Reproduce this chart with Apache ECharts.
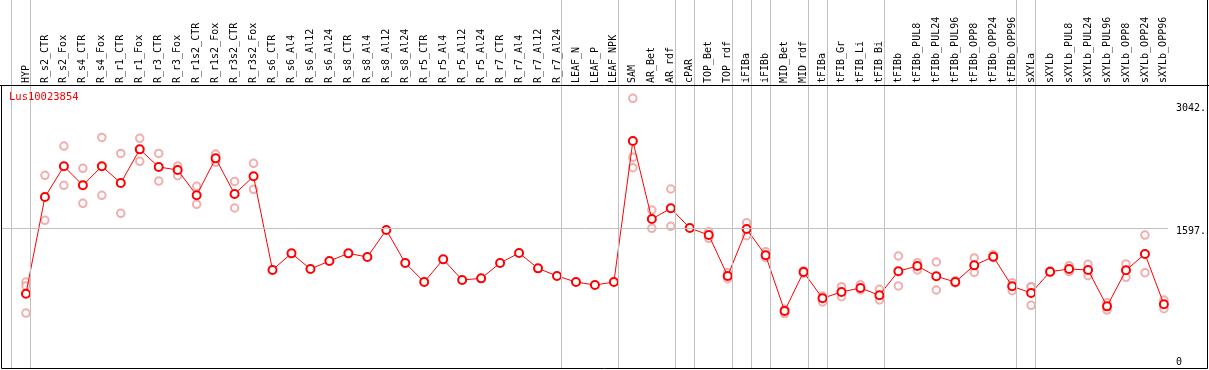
<!DOCTYPE html>
<html>
<head>
<meta charset="utf-8">
<script src="https://cdn.jsdelivr.net/npm/echarts@6/dist/echarts.min.js"></script>
<style>
html,body{margin:0;padding:0;background:#fff;}
#c{width:1209px;height:370px;}
</style>
</head>
<body>
<div id="c"></div>
<script>
const geneName = 'Lus10023854';
const categories = ['HYP','R_s2_CTR','R_s2_Fox','R_s4_CTR','R_s4_Fox','R_r1_CTR','R_r1_Fox','R_r3_CTR','R_r3_Fox','R_r1s2_CTR','R_r1s2_Fox','R_r3s2_CTR','R_r3s2_Fox','R_s6_CTR','R_s6_Al4','R_s6_Al12','R_s6_Al24','R_s8_CTR','R_s8_Al4','R_s8_Al12','R_s8_Al24','R_r5_CTR','R_r5_Al4','R_r5_Al12','R_r5_Al24','R_r7_CTR','R_r7_Al4','R_r7_Al12','R_r7_Al24','LEAF_N','LEAF_P','LEAF_NPK','SAM','AR_Bet','AR_rdf','cPAR','TOP_Bet','TOP_rdf','iFIBa','iFIBb','MID_Bet','MID_rdf','tFIBa','tFIB_Gr','tFIB_Li','tFIB_Bi','tFIBb','tFIBb_PUL8','tFIBb_PUL24','tFIBb_PUL96','tFIBb_OPP8','tFIBb_OPP24','tFIBb_OPP96','sXYLa','sXYLb','sXYLb_PUL8','sXYLb_PUL24','sXYLb_PUL96','sXYLb_OPP8','sXYLb_OPP24','sXYLb_OPP96'];
const means = [833,1962,2321,2099,2321,2126,2519,2313,2278,1982,2414,1997,2204,1110,1304,1121,1215,1304,1261,1577,1191,969,1234,993,1012,1191,1308,1129,1040,969,934,969,2616,1705,1830,1600,1518,1040,1588,1281,631,1086,779,853,899,814,1096,1156,1036,969,1164,1265,919,841,1090,1121,1110,685,1106,1297,709];
const repA = [969,2216,2558,2297,2659,2472,2648,2472,2324,2087,2464,2145,2356,null,null,null,null,null,null,null,null,null,null,null,null,null,null,null,null,null,null,null,3115,1810,2056,null,1557,1078,1662,1324,650,1102,806,915,938,884,1273,1195,1203,985,1250,1288,962,915,1100,1160,1176,728,1180,1518,759];
const repB = [923,1690,2099,1889,1982,1772,2379,2149,2211,1877,2367,1834,2052,null,null,null,null,null,null,null,null,null,null,null,null,null,null,null,null,null,null,null,2426,1597,1620,null,1480,1008,1510,1254,600,1071,736,798,876,759,923,1110,876,958,1083,1254,868,697,1080,1090,1043,642,1024,1078,658];
const repC = [607,null,null,null,null,null,null,null,null,null,null,null,null,null,null,null,null,null,null,null,null,null,null,null,null,null,null,null,null,null,null,null,2305,null,null,null,null,null,null,null,null,null,null,null,null,null,null,null,null,null,null,null,null,911,null,null,null,null,null,null,null];
// last category index of each group (separator drawn just after it)
const groupEnds = [-1,0,28,31,34,35,37,38,39,41,42,45,52,53,60];
const yTickLabels = [0,1597,3042];
const gridValue = 1597;

const mono = '"DejaVu Sans Mono", "Liberation Mono", monospace';
const repData = [];
[repA, repB, repC].forEach(arr => arr.forEach((v, i) => { if (v != null) repData.push([i, v]); }));
const meanData = means.map((v, i) => [i, v]);

const chart = echarts.init(document.getElementById('c'), null, {renderer: 'canvas'});
chart.setOption({
  animation: false,
  backgroundColor: '#fff',
  title: {
    text: geneName, left: 9, top: 92, padding: 0,
    textStyle: {color: '#ff0000', fontSize: 10.5, fontWeight: 'normal', fontFamily: mono}
  },
  grid: {left: 1, right: 39, top: 0, bottom: 1},
  xAxis: {
    type: 'value', position: 'top', offset: -85,
    min: -1.3158, max: 60.2105,
    axisLine: {show: false}, axisTick: {show: false}, splitLine: {show: false},
    axisLabel: {
      customValues: categories.map((c, i) => i),
      rotate: 90, margin: 2, color: '#000', fontSize: 10, fontFamily: mono,
      formatter: v => categories[Math.round(v)] || ''
    }
  },
  yAxis: {
    type: 'value', position: 'right', min: -47, max: 4264,
    axisLine: {show: false}, splitLine: {show: false},
    axisTick: {show: true, customValues: [gridValue], length: 38, inside: false, lineStyle: {color: '#c0c0c0', width: 1}},
    axisLabel: {
      customValues: yTickLabels, margin: 8, color: '#000', fontSize: 10, fontFamily: mono,
      align: 'left', verticalAlign: 'middle',
      formatter: v => v === 0 ? '{lo|0}' : '{hi|' + v + '.}',
      rich: {lo: {padding: [0, 0, 5, 0], fontSize: 10, fontFamily: mono}, hi: {padding: [7, 0, 0, 0], fontSize: 10, fontFamily: mono}}
    }
  },
  series: [
    {
      type: 'scatter', name: 'replicates', data: repData, z: 2,
      symbol: 'emptyCircle', symbolSize: 7.5,
      itemStyle: {color: '#ee9a9a', borderColor: '#ee9a9a', borderWidth: 1.2},
      markLine: {
        silent: true, symbol: 'none', label: {show: false},
        lineStyle: {color: '#c0c0c0', width: 1, type: 'solid'},
        data: groupEnds.map(g => ({xAxis: g + 0.237})).concat([{yAxis: gridValue}])
      }
    },
    {
      type: 'line', name: 'mean', data: meanData, z: 3,
      symbol: 'emptyCircle', symbolSize: 8,
      lineStyle: {color: '#ff0000', width: 1},
      itemStyle: {color: '#ff0000', borderColor: '#ee0000', borderWidth: 1.6}
    }
  ],
  graphic: [
    {type: 'polyline', silent: true, z: 10, shape: {points: [[0, 85.5], [1209, 85.5]]}, style: {stroke: '#000', lineWidth: 1}},
    {type: 'polyline', silent: true, z: 10, shape: {points: [[1.5, 85], [1.5, 368.5], [1207.5, 368.5], [1207.5, 0]]}, style: {stroke: '#000', lineWidth: 1, fill: null}}
  ]
});
</script>
</body>
</html>
